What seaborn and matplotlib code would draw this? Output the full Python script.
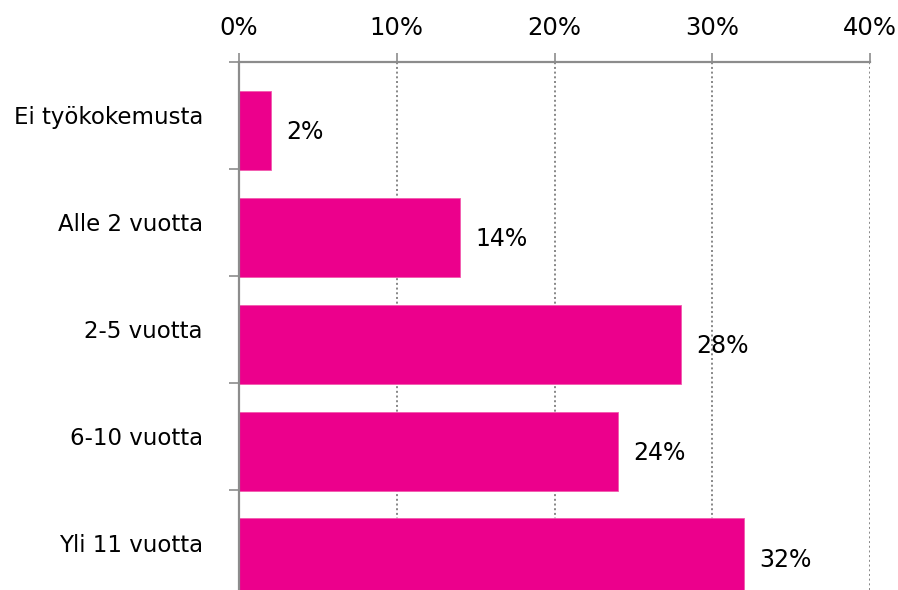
import numpy as np
import pandas as pd
import matplotlib
matplotlib.use("Agg")
import matplotlib.pyplot as plt
from matplotlib.ticker import FixedLocator, NullFormatter
import seaborn as sns

# Work experience of respondents, share (%)
categories = ["Ei työkokemusta", "Alle 2 vuotta", "2-5 vuotta", "6-10 vuotta", "Yli 11 vuotta"]
shares = [2, 14, 28, 24, 32]
x_ticks = [0, 10, 20, 30, 40]
x_tick_labels = ["0%", "10%", "20%", "30%", "40%"]

sns.set_theme(style="white")
plt.rcParams["font.family"] = ["DejaVu Sans"]

BAR_COLOR = "#EC008C"
AXIS_COLOR = "#8C8C8C"

fig = plt.figure(figsize=(8.98, 5.90), dpi=100)
ax = fig.add_axes([239 / 898, 0.0, 631 / 898, (590 - 62) / 590])

# each bar sits slightly below the centre of its category band
band = np.arange(len(categories))
bar_pos = band + 0.14
df = pd.DataFrame({"share": shares, "pos": bar_pos})

sns.barplot(data=df, x="share", y="pos", orient="h", native_scale=True,
            width=0.74, color=BAR_COLOR, saturation=1, edgecolor="#F25AAE",
            linewidth=0.6, ax=ax, zorder=3)

ax.set_xlim(0, 40)
ax.set_ylim(4.44, -0.5)

# value labels to the right of each bar
for v, p in zip(shares, bar_pos):
    ax.annotate(f"{v}%", xy=(v, p), xytext=(11, -1.5), textcoords="offset points",
                ha="left", va="center", fontsize=17, color="black", zorder=4)

# x axis on top, dotted vertical grid
ax.xaxis.tick_top()
ax.set_xticks(x_ticks)
ax.set_xticklabels(x_tick_labels, fontsize=17.5, color="black")
ax.tick_params(axis="x", which="major", direction="out", length=6.5, width=1.2,
               color=AXIS_COLOR, pad=9, top=True, bottom=False)
for xv in x_ticks[1:]:
    ax.axvline(xv, color="#7E7E7E", linestyle=(0, (1.1, 1.5)), linewidth=1.3, zorder=1)

# y axis: ticks at band boundaries, labels at band centres
ax.yaxis.set_major_locator(FixedLocator(np.arange(len(categories) + 1) - 0.5))
ax.yaxis.set_major_formatter(NullFormatter())
ax.yaxis.set_minor_locator(FixedLocator(band))
ax.set_yticklabels(categories, minor=True, fontsize=16.5, color="black")
ax.tick_params(axis="y", which="major", direction="out", length=7.2, width=1.2,
               color=AXIS_COLOR, left=True)
ax.tick_params(axis="y", which="minor", length=0, pad=26, left=True)

ax.set_xlabel("")
ax.set_ylabel("")

for side in ["bottom", "right"]:
    ax.spines[side].set_visible(False)
for side in ["top", "left"]:
    ax.spines[side].set_color(AXIS_COLOR)
    ax.spines[side].set_linewidth(1.6)
    ax.spines[side].set_zorder(5)

fig.savefig("out.png", dpi=100, facecolor="white")
